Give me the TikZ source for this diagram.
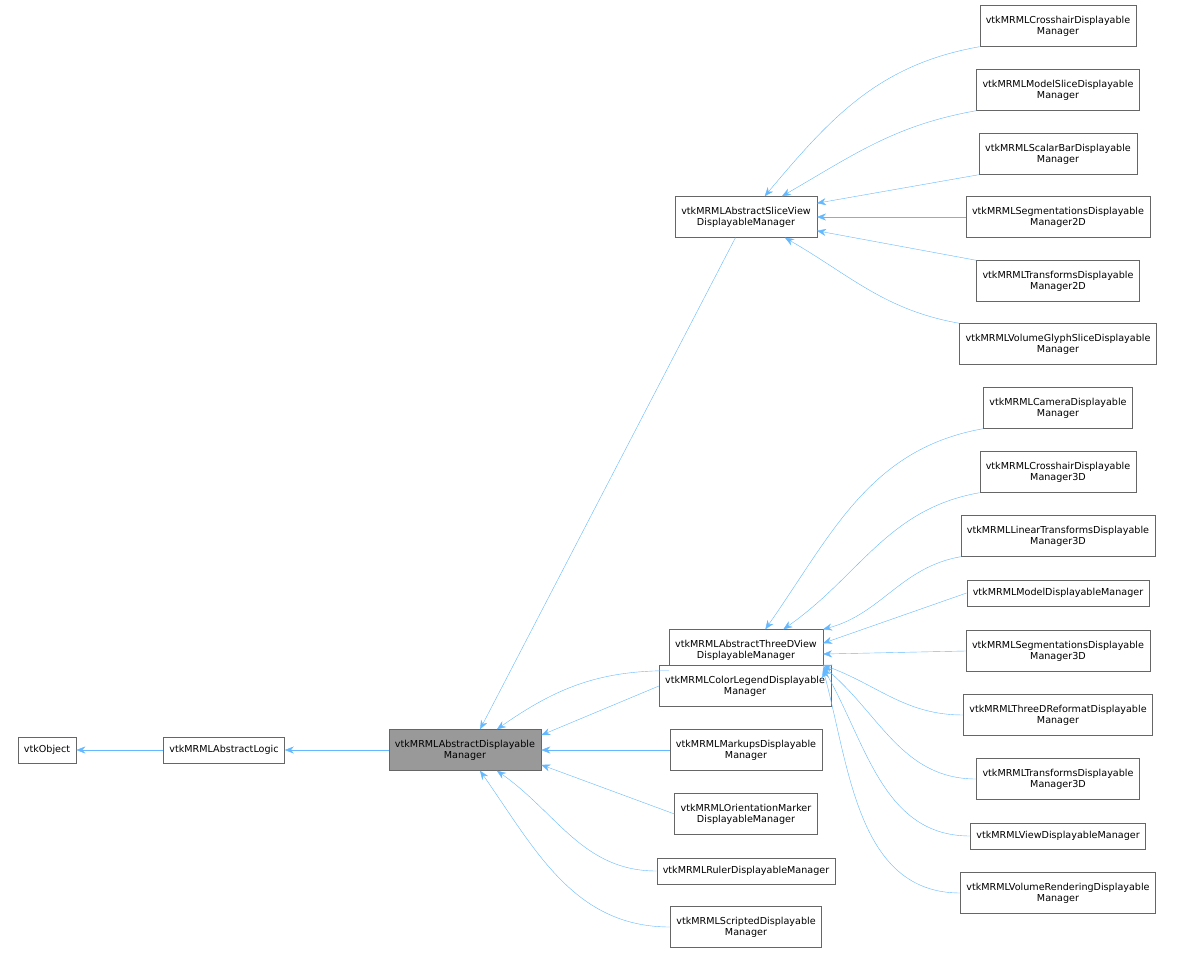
\documentclass[tikz,border=0pt]{standalone}
\usepackage{fontspec}
\setmainfont{DejaVu Sans}
\usetikzlibrary{arrows.meta,positioning}
\definecolor{edgeblue}{RGB}{99,184,255}
\definecolor{boxgray}{RGB}{102,102,102}
\definecolor{basegray}{RGB}{153,153,153}
\tikzset{
  cls/.style={draw=boxgray, fill=white, align=center, font=\fontsize{9.6}{11}\selectfont,
    inner xsep=6pt, inner ysep=2pt, minimum height=26pt},
  cls2/.style={cls, minimum height=41pt},
  base/.style={cls2, fill=basegray},
  edge/.style={draw=edgeblue, {Stealth[length=9pt,width=7pt,fill=edgeblue]}-}
}
\begin{document}
\begin{tikzpicture}[x=1pt,y=-1pt]
  \useasboundingbox (0,0) rectangle (1203,955);
  % left chain
  \node[cls] (obj) at (47,750) {vtkObject};
  \node[cls] (logic) at (224,750) {vtkMRMLAbstractLogic};
  \node[base] (main) at (465,750) {vtkMRMLAbstractDisplayable\\Manager};

  % middle column
  \node[cls2] (slice) at (746,217) {vtkMRMLAbstractSliceView\\DisplayableManager};
  \node[cls2] (three) at (746,650) {vtkMRMLAbstractThreeDView\\DisplayableManager};
  \node[cls2] (legend) at (745,686) {vtkMRMLColorLegendDisplayable\\Manager};
  \node[cls2] (markups) at (746,750) {vtkMRMLMarkupsDisplayable\\Manager};
  \node[cls2] (orient) at (746,814) {vtkMRMLOrientationMarker\\DisplayableManager};
  \node[cls] (ruler) at (746,871) {vtkMRMLRulerDisplayableManager};
  \node[cls2] (scripted) at (746,927) {vtkMRMLScriptedDisplayable\\Manager};

  % slice view children
  \node[cls2] (cross) at (1058,26) {vtkMRMLCrosshairDisplayable\\Manager};
  \node[cls2] (mslice) at (1058,90) {vtkMRMLModelSliceDisplayable\\Manager};
  \node[cls2] (scalar) at (1058,154) {vtkMRMLScalarBarDisplayable\\Manager};
  \node[cls2] (seg2) at (1058,217) {vtkMRMLSegmentationsDisplayable\\Manager2D};
  \node[cls2] (trans2) at (1058,281) {vtkMRMLTransformsDisplayable\\Manager2D};
  \node[cls2] (glyph) at (1058,344) {vtkMRMLVolumeGlyphSliceDisplayable\\Manager};

  % threeD view children
  \node[cls2] (camera) at (1058,408) {vtkMRMLCameraDisplayable\\Manager};
  \node[cls2] (cross3) at (1058,472) {vtkMRMLCrosshairDisplayable\\Manager3D};
  \node[cls2] (linear) at (1058,536) {vtkMRMLLinearTransformsDisplayable\\Manager3D};
  \node[cls] (model) at (1058,593) {vtkMRMLModelDisplayableManager};
  \node[cls2] (seg3) at (1058,651) {vtkMRMLSegmentationsDisplayable\\Manager3D};
  \node[cls2] (reformat) at (1058,715) {vtkMRMLThreeDReformatDisplayable\\Manager};
  \node[cls2] (trans3) at (1058,779) {vtkMRMLTransformsDisplayable\\Manager3D};
  \node[cls] (view) at (1058,836) {vtkMRMLViewDisplayableManager};
  \node[cls2] (volren) at (1058,893) {vtkMRMLVolumeRenderingDisplayable\\Manager};

  % inheritance edges
  \draw[edge] (obj) -- (logic);
  \draw[edge] (logic) -- (main);
  \draw[edge] (main.54) -- (slice.-117);
  \draw[edge] (main.33) to[out=35,in=180] (three.south west);
  \draw[edge] (main.11) -- (legend.west);
  \draw[edge] (main) -- (markups);
  \draw[edge] (main.-11) -- (orient.west);
  \draw[edge] (main.-33) to[out=-35,in=180] (ruler.west);
  \draw[edge] (main.-54) to[out=-55,in=180] (scripted.west);

  \draw[edge] (slice.48) to[out=50,in=190] (cross.south west);
  \draw[edge] (slice.30) to[out=30,in=190] (mslice.south west);
  \draw[edge] (slice.11) -- (scalar.south west);
  \draw[edge] (slice) -- (seg2);
  \draw[edge] (slice.-11) -- (trans2.north west);
  \draw[edge] (slice.-28) to[out=-30,in=170] (glyph.north west);

  \draw[edge] (three.47) to[out=55,in=190] (camera.south west);
  \draw[edge] (three.29) to[out=35,in=190] (cross3.south west);
  \draw[edge] (three.15) to[out=15,in=190] (linear.south west);
  \draw[edge] (three.5) -- (model.west);
  \draw[edge] (three.-3) -- (seg3.west);
  \draw[edge] (three.-11) to[out=-20,in=180] (reformat.west);
  \draw[edge] (three.-12) to[out=-40,in=180] (trans3.west);
  \draw[edge] (three.-13) to[out=-60,in=180] (view.west);
  \draw[edge] (three.-14) to[out=-75,in=180] (volren.west);
\end{tikzpicture}
\end{document}
